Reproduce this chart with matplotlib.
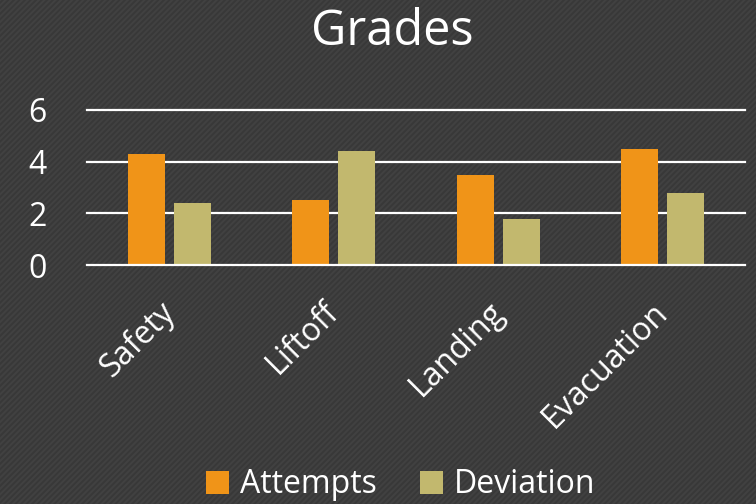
import numpy as np
import matplotlib.pyplot as plt
from matplotlib.patches import Rectangle
from matplotlib.transforms import ScaledTranslation

categories = ["Safety", "Liftoff", "Landing", "Evacuation"]
attempts = [4.3, 2.5, 3.5, 4.5]
deviation = [2.4, 4.4, 1.8, 2.8]
yticks = [0, 2, 4, 6]

plt.rcParams['font.family'] = ['Open Sans', 'DejaVu Sans']
plt.rcParams['hatch.linewidth'] = 1.5

fig = plt.figure(figsize=(7.56, 5.04), dpi=100)
fig.patch.set_facecolor('#383838')
# striped background
bg = Rectangle((0, 0), 1, 1, transform=fig.transFigure, facecolor='#383838',
               edgecolor='#414141', hatch='//////', lw=0, zorder=-10)
fig.patches.append(bg)

ax = fig.add_axes([0.115, 0.474, 0.8705, 0.308])
ax.set_facecolor('none')

x = np.arange(len(categories))
w = 0.225
ax.bar(x - 0.14, attempts, w, color='#f09418', label='Attempts', zorder=2)
ax.bar(x + 0.14, deviation, w, color='#c2b86e', label='Deviation', zorder=2)

ax.set_xlim(-0.5, len(categories) - 0.5)
ax.set_ylim(0, 6)
ax.set_yticks(yticks)
for y in yticks:
    ax.axhline(y, color='white', lw=1.6, clip_on=False, zorder=1 if y > 0 else 3)

for s in ax.spines.values():
    s.set_visible(False)
ax.tick_params(length=0, colors='white', labelsize=23)
ax.tick_params(axis='y', pad=29)
ax.set_xticks(x)
ax.set_xticklabels(categories, rotation=45, ha='right', rotation_mode='anchor')
ax.tick_params(axis='x', pad=22)
shift = ScaledTranslation(-11 / 100, 0, fig.dpi_scale_trans)
for lab in ax.get_xticklabels():
    lab.set_transform(lab.get_transform() + shift)

fig.text(0.519, 0.911, "Grades", ha='center', va='baseline', color='white', fontsize=35)

fig.legend(loc='lower center', bbox_to_anchor=(0.53, -0.052), ncol=2, frameon=False,
           fontsize=23, labelcolor='white', handlelength=0.72, handleheight=0.72,
           handletextpad=0.35, columnspacing=1.35)

fig.savefig('out.png', dpi=100, facecolor=fig.get_facecolor())
